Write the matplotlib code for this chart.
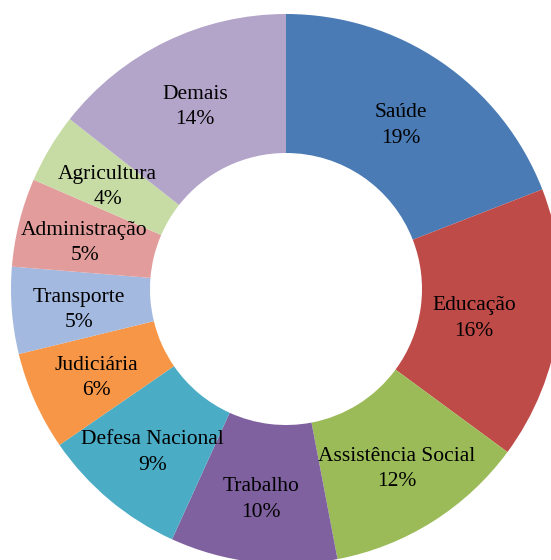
import matplotlib
matplotlib.use("Agg")
import matplotlib.pyplot as plt
import numpy as np

categories = ["Saúde", "Educação", "Assistência Social", "Trabalho",
              "Defesa Nacional", "Judiciária", "Transporte", "Administração",
              "Agricultura", "Demais"]
# shares (%)
values = [19.1, 16.0, 11.9, 9.8, 8.6, 5.8, 5.1, 5.2, 4.1, 14.4]
# percentages printed on the chart
pct_labels = ["19%", "16%", "12%", "10%", "9%", "6%", "5%", "5%", "4%", "14%"]
colors = ["#4A7BB5", "#BE4B48", "#9BBB59", "#7F619F", "#4AACC5",
          "#F79646", "#A3B9E0", "#E19C9B", "#C7DCA4", "#B3A4C9"]

W, H = 551, 560
cx, cy = 286, 289      # donut centre in pixels
R = 275.0              # outer radius in pixels
r_in = 136.0           # inner radius in pixels

fig = plt.figure(figsize=(W / 100, H / 100), dpi=100)
ax = fig.add_axes([0, 0, 1, 1])
ax.axis("off")

wedges, _ = ax.pie(values, colors=colors, startangle=90, counterclock=False,
                   radius=1.0, wedgeprops=dict(width=1 - r_in / R,
                                               edgecolor="none", linewidth=0))
ax.set_aspect("equal")
ax.set_xlim(-cx / R, (W - cx) / R)
ax.set_ylim(-(H - cy) / R, cy / R)

label_r = {"Educação": 0.69, "Saúde": 0.74}
y_shift = -4.5 / R
total = sum(values)
cum = 0
for cat, v, pl in zip(categories, values, pct_labels):
    mid = 90 - (cum + v / 2) / total * 360
    cum += v
    rr = label_r.get(cat, 0.755)
    x = rr * np.cos(np.radians(mid))
    y = rr * np.sin(np.radians(mid)) + y_shift
    ax.text(x, y, f"{cat}\n{pl}", ha="center", va="center",
            fontsize=15.5, family="Liberation Serif", linespacing=1.45,
            color="black")

fig.savefig("out.png", dpi=100)
